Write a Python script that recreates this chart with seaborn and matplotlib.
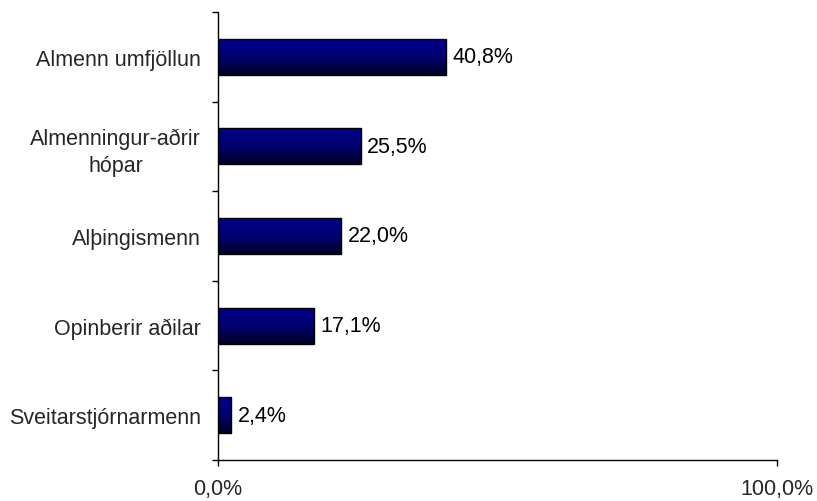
import numpy as np
import pandas as pd
import matplotlib
matplotlib.use("Agg")
import matplotlib.pyplot as plt
from matplotlib.colors import LinearSegmentedColormap
from matplotlib.ticker import FixedLocator
import seaborn as sns

# Data
categories = ["Almenn umfjöllun", "Almenningur-aðrir\nhópar", "Alþingismenn",
              "Opinberir aðilar", "Sveitarstjórnarmenn"]
values = [40.8, 25.5, 22.0, 17.1, 2.4]
x_ticks = [0, 100]
x_tick_labels = ["0,0%", "100,0%"]

df = pd.DataFrame({"category": categories, "value": values})

sns.set_style("white")
plt.rcParams["font.family"] = ["Liberation Sans", "DejaVu Sans"]

fig = plt.figure(figsize=(8.17, 5.02), dpi=100)
ax = fig.add_axes([0.2668, 0.0817, 0.6842, 0.8924])

sns.barplot(data=df, x="value", y="category", orient="h", color="#000080",
            width=0.4, edgecolor="black", linewidth=1.0, ax=ax)

# vertical gradient fill (navy at top, near black at bottom)
cmap = LinearSegmentedColormap.from_list("navy", ["#00008c", "#000070", "#000024"])
grad = np.linspace(0, 1, 256).reshape(-1, 1)
for p in ax.patches:
    x0, y0 = p.get_x(), p.get_y()
    w, h = p.get_width(), p.get_height()
    im = ax.imshow(grad, cmap=cmap, aspect="auto", interpolation="bicubic",
                   extent=[x0, x0 + w, y0 + h, y0], zorder=p.get_zorder() + 0.1)
    im.set_clip_path(p)
    p.set_facecolor("none")
    p.set_zorder(p.get_zorder() + 0.2)

ax.set_xlim(0, 100)
ax.set_ylim(len(categories) - 0.5, -0.5)

for i, v in enumerate(values):
    ax.text(v + 1.2, i, f"{v:.1f}%".replace(".", ","), va="center", ha="left",
            fontsize=15.5, color="black")

ax.set_xticks(x_ticks)
ax.set_xticklabels(x_tick_labels)
ax.set_xlabel("")
ax.set_ylabel("")

# category labels at centers, tick marks at boundaries
ax.yaxis.set_minor_locator(FixedLocator(np.arange(-0.5, len(categories), 1.0)))
ax.tick_params(axis="y", which="major", length=0, pad=12, labelsize=15.5)
for lbl in ax.get_yticklabels():
    lbl.set_multialignment("center")
    lbl.set_linespacing(1.35)
ax.tick_params(axis="y", which="minor", length=4.3, width=1, color="black",
               left=True, direction="out")
ax.tick_params(axis="x", which="major", length=4.3, width=1, color="black",
               bottom=True, direction="out", pad=8.5, labelsize=15.5)

for side in ["top", "right"]:
    ax.spines[side].set_visible(False)
for side in ["left", "bottom"]:
    ax.spines[side].set_color("black")
    ax.spines[side].set_linewidth(1.0)

fig.savefig("out.png", dpi=100)
